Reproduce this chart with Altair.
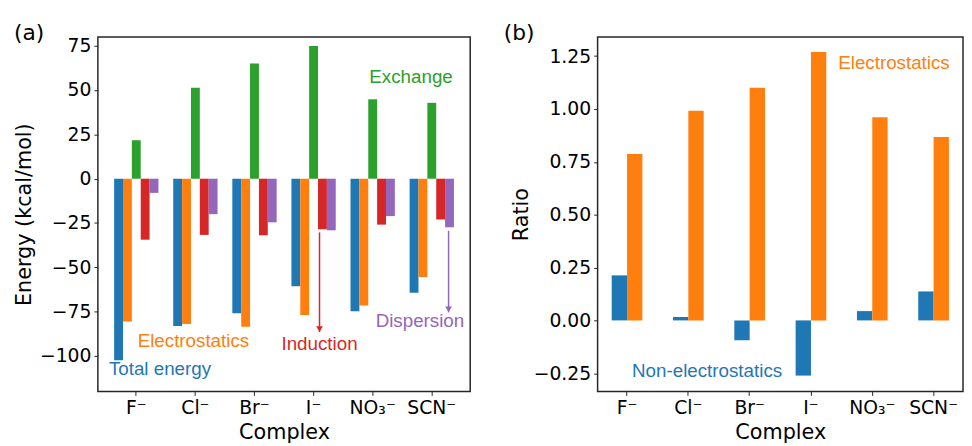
import altair as alt
import pandas as pd

complexes = ["F⁻", "Cl⁻", "Br⁻", "I⁻", "NO₃⁻", "SCN⁻"]
components = ["Total energy", "Electrostatics", "Exchange", "Induction", "Dispersion"]
colors = ["#1f77b4", "#ff7f0e", "#2ca02c", "#d62728", "#9467bd"]

total_energy = [-102.4, -83.1, -75.9, -60.6, -74.8, -64.3]
electrostatics = [-80.6, -82.0, -83.5, -76.9, -71.5, -55.4]
exchange = [21.7, 51.3, 65.0, 74.8, 44.8, 42.8]
induction = [-34.4, -31.7, -31.9, -28.5, -25.9, -23.0]
dispersion = [-8.0, -20.0, -24.6, -29.1, -21.1, -27.4]

ratio_components = ["Non-electrostatics", "Electrostatics"]
ratio_colors = ["#1f77b4", "#ff7f0e"]
nonelst_ratio = [0.213, 0.016, -0.094, -0.261, 0.044, 0.137]
elst_ratio = [0.787, 0.992, 1.100, 1.270, 0.961, 0.867]

energy_ticks = [-100, -75, -50, -25, 0, 25, 50, 75]
ratio_ticks = [-0.25, 0.0, 0.25, 0.5, 0.75, 1.0, 1.25]

# annotation: (label, complex anchor, y value, colour, dx)
ann_a = [
    ("Exchange", "SCN⁻", 54.0, "#2ca02c", -21),
    ("Electrostatics", "Cl⁻", -94.8, "#ff7f0e", -2),
    ("Total energy", "F⁻", -111.0, "#1f77b4", 24),
    ("Induction", "I⁻", -96.5, "#d62728", 6),
    ("Dispersion", "SCN⁻", -83.7, "#9467bd", -12),
]
# arrows: (complex, y start, y end, colour, dx)
arrows_a = [
    ("I⁻", -30.3, -86.5, "#d62728", 6),
    ("SCN⁻", -29.4, -75.4, "#9467bd", 17),
]
ann_b = [
    ("Electrostatics", "NO₃⁻", 1.19, "#ff7f0e", 22),
    ("Non-electrostatics", "Cl⁻", -0.267, "#1f77b4", 19),
]

ANN_FONT = "Liberation Sans"
AX_FONT = "DejaVu Sans"

# ---------- panel (a) ----------
rows = []
for comp, vals in zip(components, [total_energy, electrostatics, exchange, induction, dispersion]):
    for c, v in zip(complexes, vals):
        rows.append({"complex": c, "component": comp, "value": v})
df_a = pd.DataFrame(rows)

x_a = alt.X("complex:N", sort=complexes,
            scale=alt.Scale(domain=complexes, paddingInner=0.25, paddingOuter=0.275),
            axis=alt.Axis(title="Complex", labelAngle=0))
y_a = alt.Y("value:Q", scale=alt.Scale(domain=[-120, 80], nice=False, zero=False),
            axis=alt.Axis(title="Energy (kcal/mol)", values=energy_ticks, format="d", titlePadding=5))

bars_a = alt.Chart(df_a).mark_bar().encode(
    x=x_a,
    xOffset=alt.XOffset("component:N", sort=components,
                        scale=alt.Scale(domain=components, paddingInner=0, paddingOuter=0)),
    y=y_a,
    color=alt.Color("component:N", scale=alt.Scale(domain=components, range=colors), legend=None),
)

layers_a = [bars_a]
for label, c, yv, col, dx in ann_a:
    d = pd.DataFrame({"complex": [c], "value": [yv], "label": [label]})
    layers_a.append(alt.Chart(d).mark_text(
        font=ANN_FONT, fontSize=19, color=col, align="center", baseline="alphabetic", dx=dx
    ).encode(x=alt.X("complex:N", sort=complexes), y="value:Q", text="label:N"))
for c, y0, y1, col, dx in arrows_a:
    d = pd.DataFrame({"complex": [c], "value": [y0], "value2": [y1]})
    layers_a.append(alt.Chart(d).mark_rule(color=col, strokeWidth=1.5, xOffset=dx).encode(
        x=alt.X("complex:N", sort=complexes), y="value:Q", y2="value2:Q"))
    d2 = pd.DataFrame({"complex": [c], "value": [y1]})
    layers_a.append(alt.Chart(d2).mark_point(
        shape="triangle-down", filled=True, size=45, color=col, opacity=1, xOffset=dx, yOffset=-3
    ).encode(x=alt.X("complex:N", sort=complexes), y="value:Q"))

lab_a = alt.Chart(pd.DataFrame({"t": ["(a)"]})).mark_text(
    font=AX_FONT, fontSize=22, align="left", baseline="alphabetic", color="black"
).encode(text="t:N", x=alt.value(-85), y=alt.value(3))
layers_a.append(lab_a)

panel_a = alt.layer(*layers_a).properties(width=377, height=359)

# ---------- panel (b) ----------
rows = []
for comp, vals in zip(ratio_components, [nonelst_ratio, elst_ratio]):
    for c, v in zip(complexes, vals):
        rows.append({"complex": c, "part": comp, "value": v})
df_b = pd.DataFrame(rows)

x_b = alt.X("complex:N", sort=complexes,
            scale=alt.Scale(domain=complexes, paddingInner=0.5, paddingOuter=0.23),
            axis=alt.Axis(title="Complex", labelAngle=0))
y_b = alt.Y("value:Q", scale=alt.Scale(domain=[-0.336, 1.341], nice=False, zero=False),
            axis=alt.Axis(title="Ratio", values=ratio_ticks, format=".2f", titlePadding=2))

bars_b = alt.Chart(df_b).mark_bar().encode(
    x=x_b,
    xOffset=alt.XOffset("part:N", sort=ratio_components,
                        scale=alt.Scale(domain=ratio_components, paddingInner=0, paddingOuter=0)),
    y=y_b,
    color=alt.Color("part:N", scale=alt.Scale(domain=ratio_components, range=ratio_colors), legend=None),
)
layers_b = [bars_b]
for label, c, yv, col, dx in ann_b:
    d = pd.DataFrame({"complex": [c], "value": [yv], "label": [label]})
    layers_b.append(alt.Chart(d).mark_text(
        font=ANN_FONT, fontSize=19, color=col, align="center", baseline="alphabetic", dx=dx
    ).encode(x=alt.X("complex:N", sort=complexes), y="value:Q", text="label:N"))
lab_b = alt.Chart(pd.DataFrame({"t": ["(b)"]})).mark_text(
    font=AX_FONT, fontSize=22, align="left", baseline="alphabetic", color="black"
).encode(text="t:N", x=alt.value(-95), y=alt.value(3))
layers_b.append(lab_b)

panel_b = alt.layer(*layers_b).properties(width=370, height=359)

chart = alt.hconcat(panel_a, panel_b, spacing=32).resolve_scale(
    x="independent", y="independent", xOffset="independent", color="independent"
).properties(
    padding={"left": 5, "top": 10.5, "right": 0, "bottom": 0}
).configure_view(
    stroke="#262626", strokeWidth=1.5
).configure_axis(
    domain=False, grid=False, labelFont=AX_FONT, titleFont=AX_FONT,
    labelFontSize=19, titleFontSize=21, titleFontWeight="normal",
    labelColor="black", titleColor="black", tickColor="#262626",
    tickSize=4, labelPadding=3
).configure_axisX(titlePadding=5)

chart.save("out.html", embed_options={"renderer": "svg", "actions": False})
